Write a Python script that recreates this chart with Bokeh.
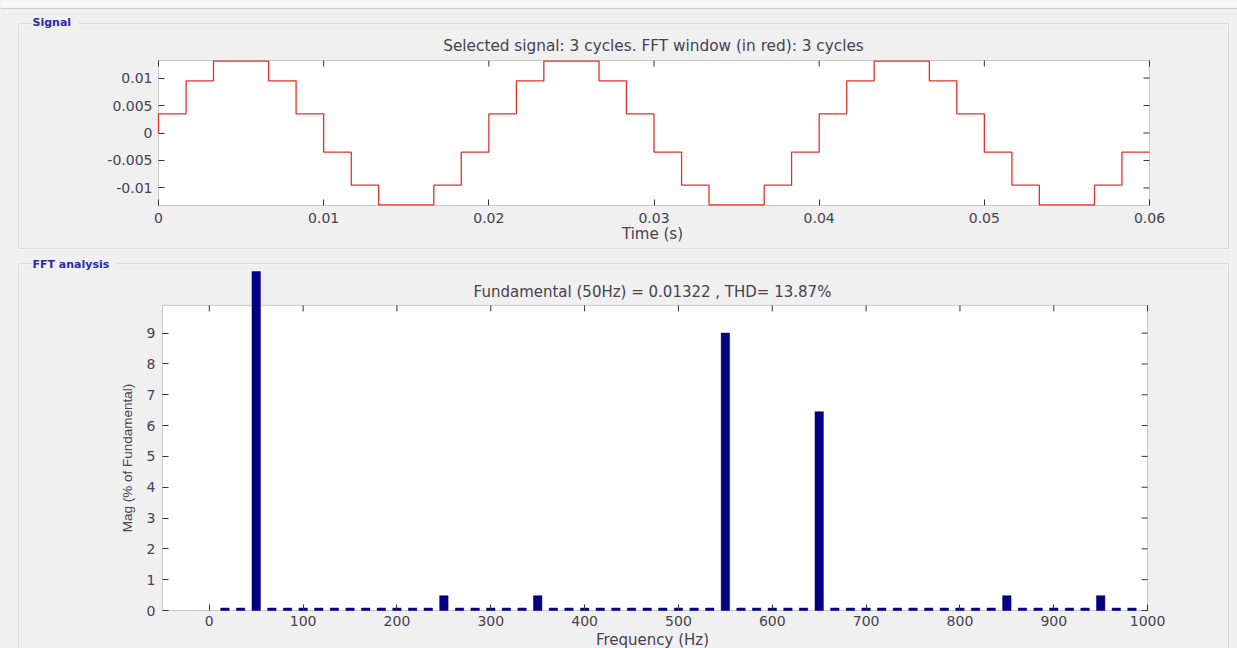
import math
from bokeh.plotting import figure
from bokeh.models import Range1d, FixedTicker, Label, BoxAnnotation, Span, ColumnDataSource
from bokeh.layouts import column
from bokeh.embed import file_html
from bokeh.resources import INLINE

# ---------------- data ----------------
panel1_name = "Signal"
panel2_name = "FFT analysis"
sig_title = "Selected signal: 3 cycles. FFT window (in red): 3 cycles"
sig_xlabel = "Time (s)"
# staircase signal: step times (s) and held levels
sig_t = [0.0, 0.0, 0.00167, 0.00333, 0.005, 0.00667, 0.00833, 0.01, 0.01167, 0.01333,
         0.015, 0.01667, 0.01833, 0.02, 0.02167, 0.02333, 0.025, 0.02667, 0.02833,
         0.03, 0.03167, 0.03333, 0.035, 0.03667, 0.03833, 0.04, 0.04167, 0.04333,
         0.045, 0.04667, 0.04833, 0.05, 0.05167, 0.05333, 0.055, 0.05667, 0.05833, 0.06]
sig_v = [0.0,
         0.0035, 0.0095, 0.0131, 0.0131, 0.0095, 0.0035,
         -0.0035, -0.0095, -0.0131, -0.0131, -0.0095, -0.0035,
         0.0035, 0.0095, 0.0131, 0.0131, 0.0095, 0.0035,
         -0.0035, -0.0095, -0.0131, -0.0131, -0.0095, -0.0035,
         0.0035, 0.0095, 0.0131, 0.0131, 0.0095, 0.0035,
         -0.0035, -0.0095, -0.0131, -0.0131, -0.0095, -0.0035,
         -0.0035]
sig_xticks = [0, 0.01, 0.02, 0.03, 0.04, 0.05, 0.06]
sig_xtick_labels = ["0", "0.01", "0.02", "0.03", "0.04", "0.05", "0.06"]
sig_yticks = [-0.01, -0.005, 0, 0.005, 0.01]
sig_ytick_labels = ["-0.01", "-0.005", "0", "0.005", "0.01"]

fft_title = "Fundamental (50Hz) = 0.01322 , THD= 13.87%"
fft_xlabel = "Frequency (Hz)"
fft_ylabel = "Mag (% of Fundamental)"
fft_freq = [16.67, 33.33, 50, 66.67, 83.33, 100, 116.67, 133.33, 150, 166.67,
            183.33, 200, 216.67, 233.33, 250, 266.67, 283.33, 300, 316.67, 333.33,
            350, 366.67, 383.33, 400, 416.67, 433.33, 450, 466.67, 483.33, 500,
            516.67, 533.33, 550, 566.67, 583.33, 600, 616.67, 633.33, 650, 666.67,
            683.33, 700, 716.67, 733.33, 750, 766.67, 783.33, 800, 816.67, 833.33,
            850, 866.67, 883.33, 900, 916.67, 933.33, 950, 966.67, 983.33]
fft_mag = [0.08, 0.08, 100.0, 0.08, 0.08, 0.08, 0.08, 0.08, 0.08, 0.08,
           0.08, 0.08, 0.08, 0.08, 0.48, 0.08, 0.08, 0.08, 0.08, 0.08,
           0.48, 0.08, 0.08, 0.08, 0.08, 0.08, 0.08, 0.08, 0.08, 0.08,
           0.08, 0.08, 9.0, 0.08, 0.08, 0.08, 0.08, 0.08, 6.45, 0.08,
           0.08, 0.08, 0.08, 0.08, 0.08, 0.08, 0.08, 0.08, 0.08, 0.08,
           0.48, 0.08, 0.08, 0.08, 0.08, 0.08, 0.48, 0.08, 0.08]
fft_xticks = [0, 100, 200, 300, 400, 500, 600, 700, 800, 900, 1000]
fft_yticks = [0, 1, 2, 3, 4, 5, 6, 7, 8, 9]

# ---------------- style ----------------
BG = "#f0f0f0"
FONT = "DejaVu Sans"
TXT = "#46424f"
TICK = "#333333"
FRAME = "#5c5c5c"
RED = "#e0322c"
NAVY = "#000080"
PANEL_BLUE = "#2a2aa8"
ETCH = "#a9a9a9"
W = 1237


def style_axis(ax, ticks, tick_in, standoff):
    ax.ticker = FixedTicker(ticks=ticks)
    ax.axis_line_color = None
    ax.major_tick_in = tick_in
    ax.major_tick_out = 0
    ax.major_tick_line_color = TICK
    ax.minor_tick_in = 0
    ax.minor_tick_out = 0
    ax.major_label_standoff = standoff
    ax.major_label_text_font = FONT
    ax.major_label_text_font_size = "14px"
    ax.major_label_text_color = TXT


def text(p, x, y, s, size="15px", align="center", **kw):
    p.add_layout(Label(x=x, y=y, text=s, text_align=align, text_baseline="middle",
                       text_font=kw.pop("font", FONT), text_font_size=size,
                       text_color=kw.pop("color", TXT), **kw))


def base_figure(h, xr, yr, bg):
    p = figure(width=W, height=h, x_range=Range1d(*xr), y_range=Range1d(*yr),
               output_backend="svg", toolbar_location=None, title=None,
               min_border=0, min_border_left=0, min_border_right=0,
               min_border_top=0, min_border_bottom=0,
               background_fill_color=bg, border_fill_color=bg)
    p.grid.visible = False
    p.outline_line_color = None
    return p


def etched_box(p, l, r, t, b):
    p.add_layout(BoxAnnotation(left=l[1], right=r[1], top=t[1], bottom=b[1],
                               fill_alpha=0, line_color="white", line_width=1))
    p.add_layout(BoxAnnotation(left=l[0], right=r[0], top=t[0], bottom=b[0],
                               fill_alpha=0, line_color=ETCH, line_width=1))


# ================= Signal panel (canvas 1237 x 256) =================
H1 = 256
SX0, SX1, SY0, SY1 = 158.0, 1149.0, 60.0, 205.0      # plot box in pixels
XD1, YD1 = (0.0, 0.06), (-0.0132, 0.0132)


def sx(px):
    return XD1[0] + (px - SX0) * (XD1[1] - XD1[0]) / (SX1 - SX0)


def sy(py):
    return YD1[1] - (py - SY0) * (YD1[1] - YD1[0]) / (SY1 - SY0)


p1 = base_figure(H1, (sx(0), sx(W)), (sy(H1), sy(0)), BG)
p1.add_layout(BoxAnnotation(left=XD1[0], right=XD1[1], bottom=YD1[0], top=YD1[1],
                            fill_color="white", fill_alpha=1, line_color=FRAME,
                            line_width=1, level="underlay"))
p1.add_layout(BoxAnnotation(top=sy(-10), bottom=sy(8), fill_color="#f8f8f8", fill_alpha=1,
                            line_alpha=0, level="underlay"))

p1.step(sig_t, sig_v, mode="after", line_color=RED, line_width=1.3)

style_axis(p1.xaxis[0], sig_xticks, 6, 7)
style_axis(p1.yaxis[0], sig_yticks, 6, 6)
p1.xaxis.fixed_location = YD1[0]
p1.yaxis.fixed_location = XD1[0]
p1.xaxis.major_label_overrides = dict(zip(sig_xticks, sig_xtick_labels))
p1.yaxis.major_label_overrides = dict(zip(sig_yticks, sig_ytick_labels))

dx1 = sx(SX0 + 6) - sx(SX0)
dy1 = sy(SY0) - sy(SY0 + 6)
p1.segment(x0=sig_xticks, x1=sig_xticks, y0=[YD1[1]] * len(sig_xticks),
           y1=[YD1[1] - dy1] * len(sig_xticks), line_color=TICK, line_width=1)
p1.segment(x0=[XD1[1]] * len(sig_yticks), x1=[XD1[1] - dx1] * len(sig_yticks),
           y0=sig_yticks, y1=sig_yticks, line_color=TICK, line_width=1)

p1.add_layout(Span(location=sy(8), dimension="width", line_color="#d0d0d0", line_width=1))
etched_box(p1, (sx(18), sx(19)), (sx(1228), sx(1229)), (sy(23), sy(24)), (sy(248), sy(249)))
text(p1, sx(32), sy(22), " " + panel1_name + " ", size="11px", align="left",
     color=PANEL_BLUE, text_font_style="bold", background_fill_color=BG)
text(p1, sx(653), sy(45), sig_title, size="15.3px")
text(p1, sx(652), sy(233), sig_xlabel)

# ================= FFT panel (canvas 1237 x 392, page y 256..648) =================
H2 = 392
FX_ZERO, FX_SCALE = 208.8, 0.9383     # pixel of 0 Hz, pixels per Hz
FY_ZERO, FY_SCALE = 354.0, 30.82      # pixel of 0 %, pixels per %
BOX_L, BOX_R, BOX_B, BOX_T = -50, 1000, 0, 9.9
CLIP_PX = 15                          # bars are cut off at this canvas row (as in the original)


def fx(px):
    return (px - FX_ZERO) / FX_SCALE


def fy(py):
    return (FY_ZERO - py) / FY_SCALE


p2 = base_figure(H2, (fx(0), fx(W)), (fy(H2), fy(0)), BG)
p2.add_layout(BoxAnnotation(left=BOX_L, right=BOX_R, bottom=BOX_B, top=BOX_T,
                            fill_color="white", fill_alpha=1, line_color=FRAME,
                            line_width=1, level="underlay"))

clip_top = fy(CLIP_PX)
bars = ColumnDataSource(dict(freq=fft_freq, mag=fft_mag,
                             shown=[min(m, clip_top) for m in fft_mag]))
p2.vbar(x="freq", top="shown", bottom=0, width=9, source=bars,
        fill_color=NAVY, line_color=NAVY, line_width=0.5)

style_axis(p2.xaxis[0], fft_xticks, 6, 5)
style_axis(p2.yaxis[0], fft_yticks, 6, 7)
p2.xaxis.fixed_location = BOX_B
p2.yaxis.fixed_location = BOX_L

dx2 = fx(FX_ZERO + 6) - fx(FX_ZERO)
dy2 = fy(FY_ZERO - 6) - fy(FY_ZERO)
nx, ny = len(fft_xticks), len(fft_yticks)
p2.segment(x0=fft_xticks, x1=fft_xticks, y0=[BOX_T] * nx, y1=[BOX_T - dy2] * nx,
           line_color=TICK, line_width=1)
p2.segment(x0=[BOX_R] * ny, x1=[BOX_R - dx2] * ny, y0=fft_yticks, y1=fft_yticks,
           line_color=TICK, line_width=1)

etched_box(p2, (fx(18), fx(19)), (fx(1228), fx(1229)), (fy(7), fy(8)), (fy(430), fy(431)))
text(p2, fx(32), fy(7.5), " " + panel2_name + " ", size="11px", align="left",
     color=PANEL_BLUE, text_font_style="bold", background_fill_color=BG)
text(p2, fx(652), fy(35.7), fft_title)
text(p2, fx(652), fy(383.5), fft_xlabel)
text(p2, fx(127), fy(201.5), fft_ylabel, size="13.5px", font="Liberation Sans",
     angle=math.pi / 2)

layout = column(p1, p2, spacing=0, styles={"background-color": BG})
open("out.html", "w").write(file_html(layout, INLINE))
